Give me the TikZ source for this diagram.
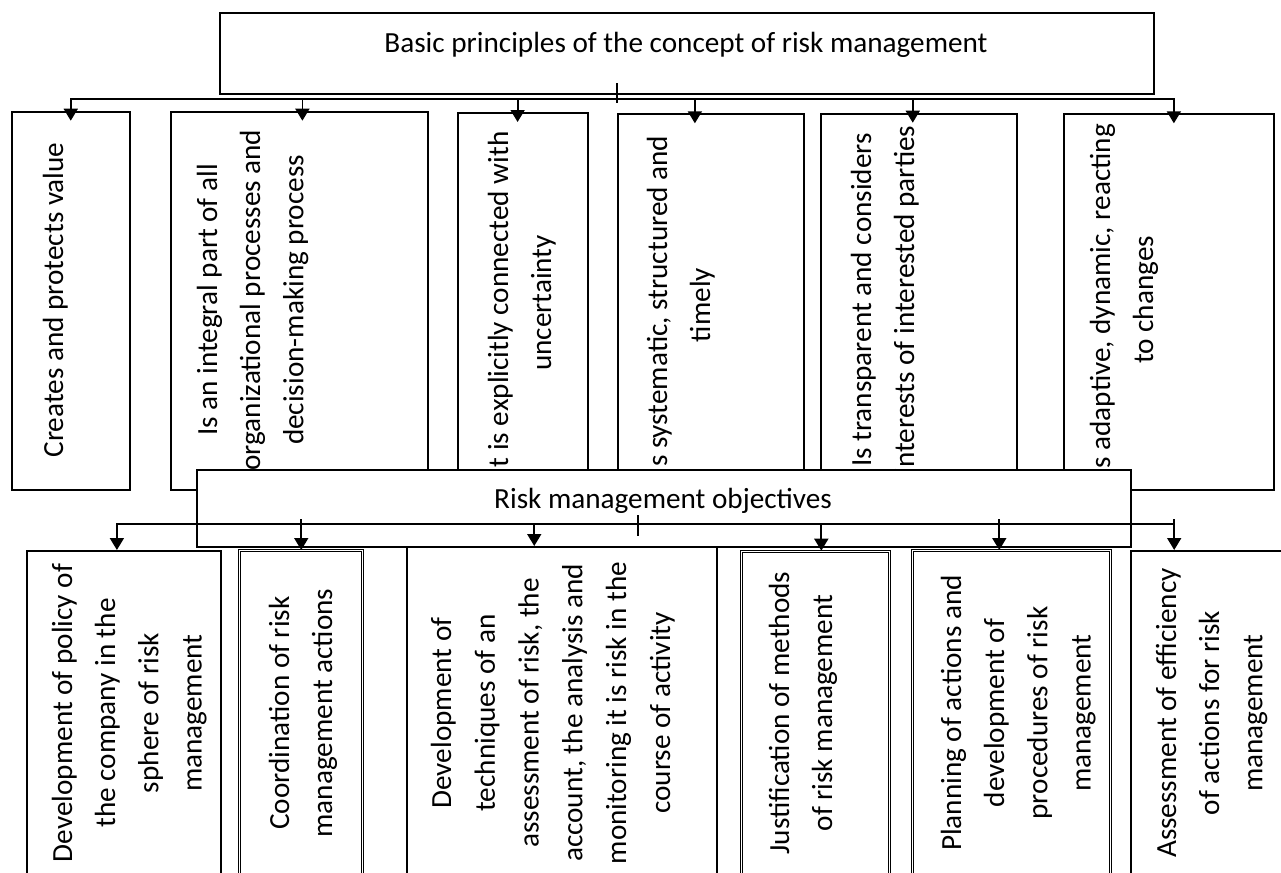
\documentclass[tikz,border=0pt]{standalone}
\usepackage{fontspec}
\setmainfont{Carlito}
\usetikzlibrary{arrows.meta}

\begin{document}
\begin{tikzpicture}[x=1pt,y=-1pt,line width=0.9pt,
    font=\fontsize{14.6}{21.6}\selectfont,
    box/.style={draw,inner sep=0pt,anchor=north west},
    dbox/.style={box,double,double distance=0.5pt,line width=0.45pt},
    txt/.style={rotate=90,anchor=base,align=flush center,text width=185pt,inner sep=0pt},
    arr/.style={-{Triangle[width=7pt,length=6pt]}},
    arrs/.style={{Triangle[width=7pt,length=6pt]}-{Triangle[width=7pt,length=6pt]}}]
  \useasboundingbox (0,0) rectangle (640.5,436.5);
  \clip (0,0) rectangle (640.5,436.5);

  % principles
  \node[box,minimum width=467pt,minimum height=40.5pt] (princ) at (109.5,6) {};
  \node[anchor=base] (princt) at (343,26) {Basic principles of the concept of risk management};

  \node[box,minimum width=59.15pt,minimum height=189.15pt] (p1) at (5.35,55.35) {};
  \node[box,minimum width=128.5pt,minimum height=189.15pt] (p2) at (85,55.35) {};
  \node[box,minimum width=65pt,minimum height=188.5pt] (p3) at (228.35,56) {};
  \node[box,minimum width=92.7pt,minimum height=187.85pt] (p4) at (308.65,56.65) {};
  \node[box,minimum width=97.85pt,minimum height=188.15pt] (p5) at (410,56.35) {};
  \node[box,minimum width=105.3pt,minimum height=187.85pt] (p6) at (531.35,56.65) {};

  \node[txt] (p1t) at (31.5,150) {Creates and protects value};
  \node[txt] (p2t) at (108.5,150) {Is an integral part of all\\organizational processes and\\decision-making process};
  \node[txt] (p3t) at (254,151.5) {It is explicitly connected with\\uncertainty};
  \node[txt] (p4t) at (333.5,152.5) {Is systematic, structured and\\timely};
  \node[txt] (p5t) at (435.5,150) {Is transparent and considers\\interests of interested parties};
  \node[txt] (p6t) at (555,150) {Is adaptive, dynamic, reacting\\to changes};

  \coordinate (pbus) at (308.5,49.65);
  \draw (pbus) ++(0,-8) -- ++(0,10);
  \draw[arrs] ([yshift=-5pt]p1.north) |- (pbus) -| ([xshift=2.5pt,yshift=-5pt]p6.north);
  \draw[arr] ([xshift=1.5pt]p2.north |- pbus) -- ([xshift=1.5pt,yshift=-5pt]p2.north);
  \draw[arr] ([xshift=-2.5pt]p3.north |- pbus) -- ([xshift=-2.5pt,yshift=-5pt]p3.north);
  \draw[arr] ([xshift=-8pt]p4.north |- pbus) -- ([xshift=-8pt,yshift=-5pt]p4.north);
  \draw[arr] ([xshift=-3pt]p5.north |- pbus) -- ([xshift=-3pt,yshift=-5pt]p5.north);

  % objectives
  \node[box,fill=white,minimum width=467pt,minimum height=38.5pt] (goal) at (98,234.5) {};
  \node[anchor=base] (goalt) at (331.5,254) {Risk management objectives};

  \node[box,minimum width=97pt,minimum height=163pt] (q1) at (13,275) {};
  \node[dbox,minimum width=61.5pt,minimum height=163pt] (q2) at (119.65,275) {};
  \node[box,minimum width=155.15pt,minimum height=165pt] (q3) at (202.85,273) {};
  \node[dbox,minimum width=74.15pt,minimum height=162.65pt] (q4) at (370.35,275.35) {};
  \node[dbox,minimum width=99.15pt,minimum height=163pt] (q5) at (455.85,275) {};
  \node[box,minimum width=90pt,minimum height=163pt] (q6) at (565,275) {};

  \node[txt] (q1t) at (36,356.5) {Development of policy of\\the company in the\\sphere of risk\\management};
  \node[txt] (q2t) at (144.5,356.5) {Coordination of risk\\management actions};
  \node[txt,font=\fontsize{14.6}{21.9}\selectfont] (q3t) at (225.5,356.5) {Development of\\techniques of an\\assessment of risk, the\\account, the analysis and\\monitoring it is risk in the\\course of activity};
  \node[txt] (q4t) at (394.5,356.5) {Justification of methods\\of risk management};
  \node[txt] (q5t) at (480.5,356.5) {Planning of actions and\\development of\\procedures of risk\\management};
  \node[txt] (q6t) at (588,356.5) {Assessment of efficiency\\of actions for risk\\management};

  \coordinate (gbus) at (319.15,262.15);
  \draw (gbus) ++(0,-4.65) -- ++(0,10.5);
  \draw[arr] ([xshift=-23.35pt]q6.north |- gbus) -| ([xshift=-3.5pt]q1.north);
  \draw[arr] ([yshift=2.5pt]q2.north |- gbus) -- (q2.north);
  \draw[arr] ([xshift=-13.75pt]q3.north |- gbus) -- ([xshift=-13.75pt]q3.north);
  \draw[arr] ([xshift=3pt]q4.north |- gbus) -- ([xshift=3pt]q4.north);
  \draw[arr] ([xshift=-6pt,yshift=2.5pt]q5.north |- gbus) -- ([xshift=-6pt]q5.north);
  \draw[arr] ([xshift=-23.35pt,yshift=2.5pt]q6.north |- gbus) -- ([xshift=-23.35pt]q6.north);
\end{tikzpicture}
\end{document}
